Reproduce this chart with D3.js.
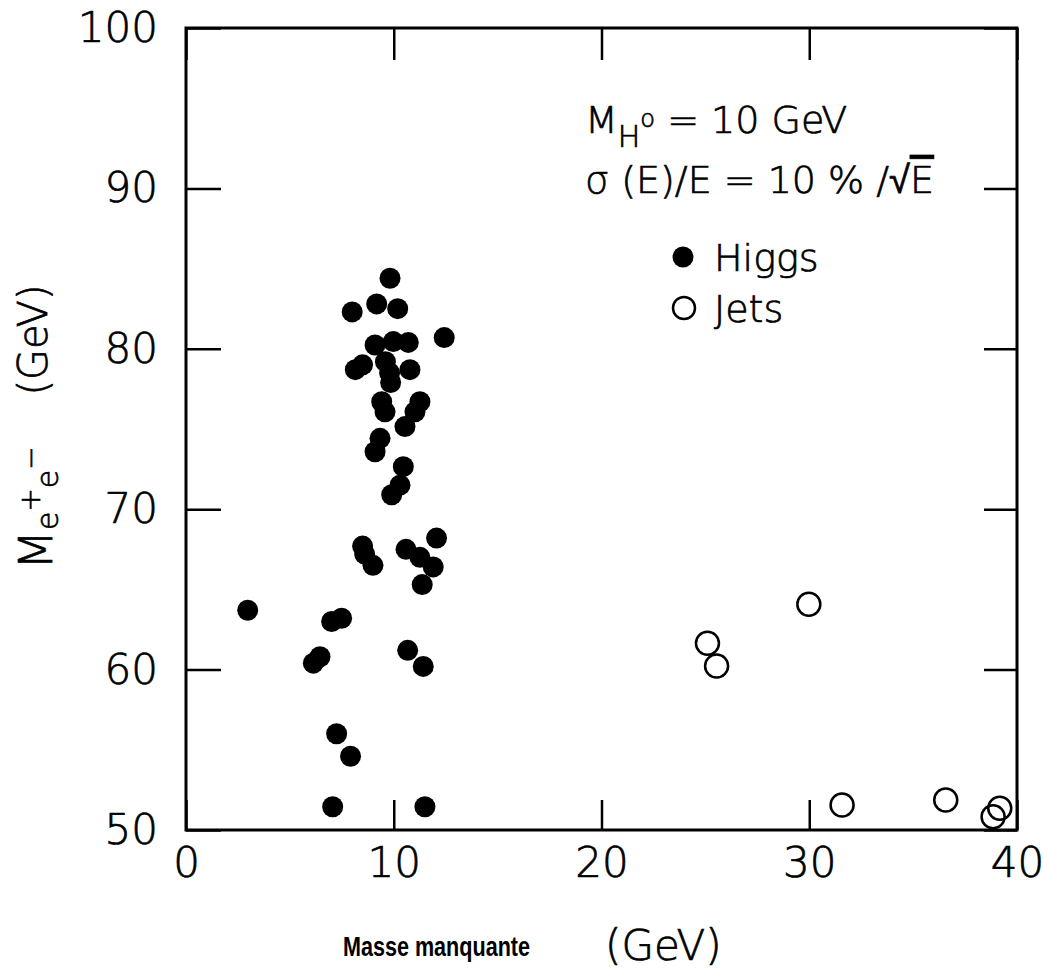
<html>
<head>
  <meta charset="utf-8">
  <title>Higgs vs Jets</title>
  <script src="https://d3js.org/d3.v7.min.js"></script>
  <style>
    body { margin: 0; background: #fff; }
    text { font-family: "DejaVu Sans", sans-serif; font-weight: 200; fill: #000; stroke: #000; stroke-width: 0.7px; }
    text.bold { stroke: none; }
  </style>
</head>
<body>
<script>
  // missing mass (GeV) and e+e- mass (GeV)
  var higgsX = [9.82, 8.0, 9.18, 10.19, 12.43, 9.1, 9.98, 10.7, 8.15, 8.5,
                9.6, 9.8, 9.85, 10.78, 9.42, 9.58, 11.26, 11.02, 10.54, 9.34,
                9.1, 10.46, 10.3, 9.9, 12.06, 8.5, 8.6, 9.0, 10.59, 11.26,
                11.9, 11.37, 2.97, 7.01, 7.49, 6.13, 6.45, 10.67, 11.42, 7.25,
                7.92, 7.06, 11.5];
  var higgsY = [84.4, 82.3, 82.8, 82.5, 80.7, 80.24, 80.45, 80.4, 78.7, 79.0,
                79.2, 78.5, 77.9, 78.7, 76.7, 76.07, 76.7, 76.07, 75.15, 74.42,
                73.58, 72.65, 71.5, 70.9, 68.2, 67.7, 67.2, 66.5, 67.5, 67.0,
                66.4, 65.3, 63.7, 63.0, 63.2, 60.4, 60.8, 61.2, 60.2, 56.0,
                54.6, 51.45, 51.45];
  var jetsX = [25.1, 25.54, 29.98, 31.58, 36.57, 39.17, 38.85];
  var jetsY = [61.64, 60.22, 64.07, 51.56, 51.87, 51.35, 50.83];

  var xTicks = [0, 10, 20, 30, 40];
  var yTicks = [50, 60, 70, 80, 90, 100];

  var width = 1043, height = 976;
  var margin = {top: 28, right: 26, bottom: 146, left: 186};

  var svg = d3.select("body").append("svg")
              .attr("width", width)
              .attr("height", height);

  var x = d3.scaleLinear().domain([0, 40]).range([margin.left, width - margin.right]);
  var y = d3.scaleLinear().domain([50, 100]).range([height - margin.bottom, margin.top]);

  var higgs = higgsX.map(function(d, i){ return {x: d, y: higgsY[i]}; });
  var jets = jetsX.map(function(d, i){ return {x: d, y: jetsY[i]}; });

  // axes: inward ticks, labels only on left and bottom
  var gl = svg.append("g").attr("transform", "translate(" + x(0) + ",0)")
              .call(d3.axisLeft(y).tickValues(yTicks).tickSizeInner(-35).tickSizeOuter(0).tickPadding(28));
  var gb = svg.append("g").attr("transform", "translate(0," + y(50) + ")")
              .call(d3.axisBottom(x).tickValues(xTicks).tickSizeInner(-30).tickSizeOuter(0).tickPadding(17));
  var gr = svg.append("g").attr("transform", "translate(" + x(40) + ",0)")
              .call(d3.axisRight(y).tickValues(yTicks).tickSizeInner(-33).tickSizeOuter(0).tickFormat(""));
  var gt = svg.append("g").attr("transform", "translate(0," + y(100) + ")")
              .call(d3.axisTop(x).tickValues(xTicks).tickSizeInner(-32).tickSizeOuter(0).tickFormat(""));

  [gl, gb, gr, gt].forEach(function(g){
    g.select(".domain").remove();
    g.selectAll("line").attr("stroke", "#000").attr("stroke-width", 2.5);
    g.selectAll("text").attr("font-size", 42).attr("fill", "#000")
     .style("font-family", "'DejaVu Sans', sans-serif").style("font-weight", 200);
  });

  svg.append("rect")
     .attr("x", x(0)).attr("y", y(100))
     .attr("width", x(40) - x(0)).attr("height", y(50) - y(100))
     .attr("fill", "none").attr("stroke", "#000").attr("stroke-width", 3);

  // points
  svg.selectAll("circle.higgs").data(higgs).enter()
     .append("circle").attr("class", "higgs")
     .attr("cx", function(d){ return x(d.x); })
     .attr("cy", function(d){ return y(d.y); })
     .attr("r", 10.5)
     .attr("fill", "#000");

  svg.selectAll("circle.jets").data(jets).enter()
     .append("circle").attr("class", "jets")
     .attr("cx", function(d){ return x(d.x); })
     .attr("cy", function(d){ return y(d.y); })
     .attr("r", 11.5)
     .attr("fill", "none")
     .attr("stroke", "#000")
     .attr("stroke-width", 2.5);

  // annotation
  var t1 = svg.append("text").attr("x", 585).attr("y", 133).attr("font-size", 38);
  t1.append("tspan").text("M");
  t1.append("tspan").attr("font-size", 30).attr("dy", 14).text("H");
  t1.append("tspan").attr("font-size", 24).attr("dy", -20).text("o");
  t1.append("tspan").attr("dy", 6).text(" = 10 GeV");

  var t2 = svg.append("text").attr("x", 585).attr("y", 193).attr("font-size", 38);
  t2.append("tspan").text("\u03c3 (E)/E = 10 % /\u221a");
  t2.append("tspan").style("text-decoration", "overline").text("E");

  // legend
  svg.append("circle").attr("cx", 683).attr("cy", 257).attr("r", 10.5).attr("fill", "#000");
  svg.append("text").attr("x", 714).attr("y", 271).attr("font-size", 38).text("Higgs");
  svg.append("circle").attr("cx", 684).attr("cy", 308).attr("r", 11)
     .attr("fill", "none").attr("stroke", "#000").attr("stroke-width", 2.5);
  svg.append("text").attr("x", 714).attr("y", 322).attr("font-size", 38).text("Jets");

  // x axis title
  svg.append("text").attr("class", "bold").attr("x", 343).attr("y", 956)
     .attr("font-size", 27)
     .attr("textLength", 187)
     .attr("lengthAdjust", "spacingAndGlyphs")
     .style("font-family", "'Liberation Sans', Arial, sans-serif")
     .style("font-weight", "bold")
     .text("Masse manquante");
  svg.append("text").attr("x", 605).attr("y", 960).attr("font-size", 42).text("(GeV)");

  // y axis title
  svg.append("text").attr("transform", "translate(47,340) rotate(-90)")
     .attr("text-anchor", "middle").attr("font-size", 40).text("(GeV)");
  var yl = svg.append("text").attr("transform", "translate(52,508) rotate(-90)")
              .attr("text-anchor", "middle").attr("font-size", 46);
  yl.append("tspan").text("M");
  yl.append("tspan").attr("font-size", 30).attr("dy", 6).text("e");
  yl.append("tspan").attr("font-size", 28).attr("dy", -18).text("+");
  yl.append("tspan").attr("font-size", 30).attr("dy", 18).text("e");
  yl.append("tspan").attr("font-size", 28).attr("dy", -18).text("\u2212");
</script>
</body>
</html>
